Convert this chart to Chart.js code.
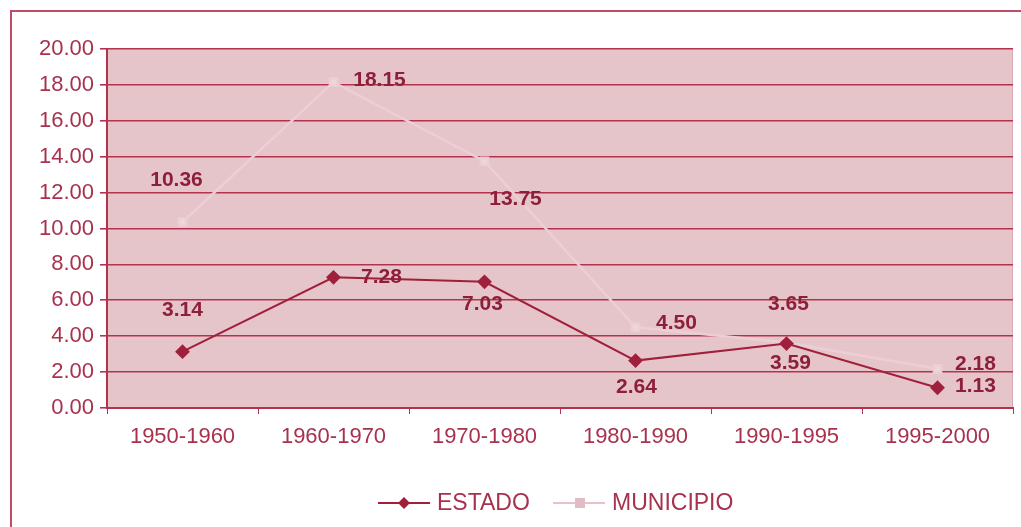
<!DOCTYPE html>
<html>
<head>
<meta charset="utf-8">
<script src="https://cdn.jsdelivr.net/npm/chart.js@4"></script>
<style>
  html, body { margin: 0; padding: 0; background: #fff; }
  #wrap { width: 1021px; height: 527px; }
</style>
</head>
<body>
<div id="wrap"><canvas id="myChart" width="1021" height="527"></canvas></div>
<script>
var periods = ["1950-1960", "1960-1970", "1970-1980", "1980-1990", "1990-1995", "1995-2000"];
var estado = [3.14, 7.28, 7.03, 2.64, 3.59, 1.13];
var municipio = [10.36, 18.15, 13.75, 4.50, 3.65, 2.18];
var yTicks = [0, 2, 4, 6, 8, 10, 12, 14, 16, 18, 20];

// label placement (dx, dy from the point), styling only
var estadoLabelPos = [[0, -41], [48, 0], [-2, 22], [1, 27], [4, 20], [38, -2]];
var municipioLabelPos = [[-6, -42], [46, -2], [31, 38], [41, -4], [2, -38], [38, -5]];

var dark = "#a0203c";
var pale = "#eccfd5";
var textColor = "#a8324e";
var gridColor = "#b5324f";
var plotBg = "#e6c5ca";

var framePlugin = {
  id: "frame",
  beforeDraw: function (chart) {
    var ctx = chart.ctx;
    var a = chart.chartArea;
    ctx.save();
    ctx.strokeStyle = "#c24c68";
    ctx.lineWidth = 2;
    ctx.beginPath();
    ctx.moveTo(11, 527);
    ctx.lineTo(11, 11);
    ctx.lineTo(1021, 11);
    ctx.stroke();
    ctx.fillStyle = plotBg;
    ctx.fillRect(a.left, a.top, a.right - a.left, a.bottom - a.top);
    ctx.strokeStyle = "#d9aab4";
    ctx.lineWidth = 1;
    ctx.strokeRect(a.right - 0.5, a.top, 0, a.bottom - a.top);
    ctx.restore();
  }
};

var labelsPlugin = {
  id: "valueLabels",
  afterDatasetsDraw: function (chart) {
    var ctx = chart.ctx;
    var pos = [estadoLabelPos, municipioLabelPos];
    ctx.save();
    ctx.font = "bold 21px 'Liberation Sans', Arial, sans-serif";
    ctx.fillStyle = "#8e1f3a";
    ctx.textAlign = "center";
    ctx.textBaseline = "middle";
    chart.data.datasets.forEach(function (ds, di) {
      var meta = chart.getDatasetMeta(di);
      meta.data.forEach(function (pt, i) {
        var off = pos[di][i];
        ctx.fillText(ds.data[i].toFixed(2), pt.x + off[0], pt.y + off[1]);
      });
    });
    ctx.restore();
  }
};

var legendPlugin = {
  id: "bottomLegend",
  afterDraw: function (chart) {
    var ctx = chart.ctx;
    var y = 503;
    ctx.save();
    ctx.lineWidth = 2;
    // ESTADO
    ctx.strokeStyle = dark;
    ctx.beginPath();
    ctx.moveTo(378, y);
    ctx.lineTo(430, y);
    ctx.stroke();
    ctx.fillStyle = dark;
    ctx.beginPath();
    ctx.moveTo(404, y - 6);
    ctx.lineTo(410, y);
    ctx.lineTo(404, y + 6);
    ctx.lineTo(398, y);
    ctx.closePath();
    ctx.fill();
    // MUNICIPIO
    ctx.strokeStyle = "#e6c3ca";
    ctx.beginPath();
    ctx.moveTo(553, y);
    ctx.lineTo(605, y);
    ctx.stroke();
    ctx.fillStyle = "#e2bcc4";
    ctx.fillRect(575, y - 5, 10, 10);
    ctx.font = "23px 'Liberation Sans', Arial, sans-serif";
    ctx.fillStyle = textColor;
    ctx.textAlign = "left";
    ctx.textBaseline = "middle";
    ctx.fillText("ESTADO", 437, y + 1);
    ctx.fillText("MUNICIPIO", 612, y + 1);
    ctx.restore();
  }
};

new Chart("myChart", {
  type: "line",
  data: {
    labels: periods,
    datasets: [
      {
        label: "ESTADO",
        data: estado,
        borderColor: dark,
        backgroundColor: dark,
        borderWidth: 2,
        pointStyle: "rectRot",
        pointRadius: 6,
        pointHoverRadius: 6,
        tension: 0
      },
      {
        label: "MUNICIPIO",
        data: municipio,
        borderColor: pale,
        backgroundColor: "#efd6db",
        borderWidth: 2.5,
        pointStyle: "rect",
        pointRadius: 5,
        pointHoverRadius: 5,
        tension: 0
      }
    ]
  },
  options: {
    responsive: false,
    animation: false,
    events: [],
    layout: { padding: { top: 49, right: 7, bottom: 69, left: 0 } },
    plugins: {
      legend: { display: false },
      title: { display: false },
      tooltip: { enabled: false }
    },
    scales: {
      x: {
        offset: true,
        grid: {
          offset: true,
          drawOnChartArea: false,
          color: gridColor,
          tickLength: 6
        },
        border: { color: gridColor, width: 2 },
        ticks: {
          color: textColor,
          padding: 10,
          maxRotation: 0,
          font: { family: "'Liberation Sans', Arial, sans-serif", size: 22 }
        },
        afterFit: function (scale) { scale.height = 50; }
      },
      y: {
        min: 0,
        max: 20,
        afterBuildTicks: function (scale) {
          scale.ticks = yTicks.map(function (v) { return { value: v }; });
        },
        grid: { color: gridColor, lineWidth: 1.6, tickLength: 7 },
        border: { color: gridColor, width: 2 },
        ticks: {
          color: textColor,
          padding: 6,
          font: { family: "'Liberation Sans', Arial, sans-serif", size: 22 },
          callback: function (v) { return Number(v).toFixed(2); }
        },
        afterFit: function (scale) { scale.width = 107; }
      }
    }
  },
  plugins: [framePlugin, labelsPlugin, legendPlugin]
});
</script>
</body>
</html>
